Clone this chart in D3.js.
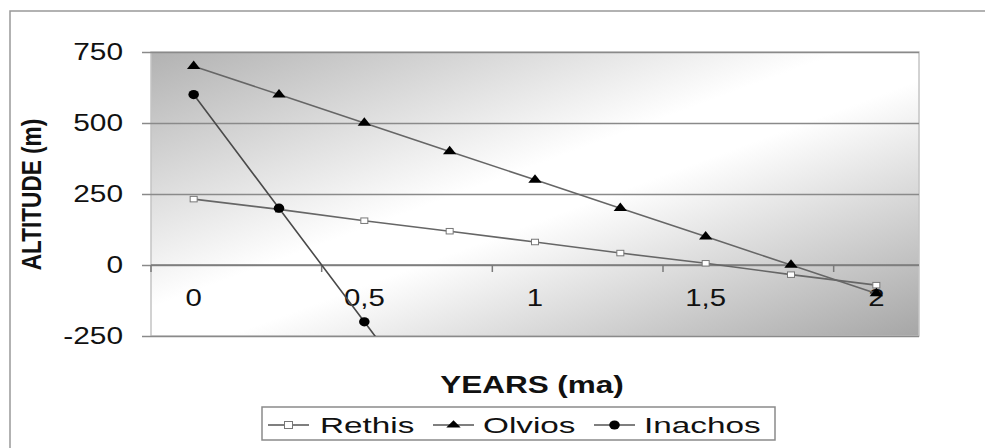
<!DOCTYPE html>
<html><head><meta charset="utf-8">
<script src="https://cdn.jsdelivr.net/npm/d3@7"></script>
<style>html,body{margin:0;padding:0;background:#fff;overflow:hidden}text{font-family:Arial,"Liberation Sans",sans-serif;fill:#111}</style>
</head><body>
<svg id="c" width="985" height="448"></svg>
<script>
const years = [0, 0.25, 0.5, 0.75, 1, 1.25, 1.5, 1.75, 2];
const xTickLabels = ["0", "0,5", "1", "1,5", "2"];
const yTicks = [-250, 0, 250, 500, 750];
const seriesNames = ["Rethis", "Olvios", "Inachos"];
const rethis = [232, 196, 156, 119, 81, 42, 6, -34, -71];
const olvios = [700, 600, 500, 400, 300, 200, 100, 0, -100];
const inachos = [600, 200, -200, -600, null, null, null, null, null];

const svg = d3.select("#c");
const L = 151, R = 919, T = 52, B = 336;
const x = d3.scaleBand().domain(years).range([L, R]);
const cx = d => x(d) + x.bandwidth() / 2;
const y = d3.scaleLinear().domain([-250, 750]).range([B, T]);

// outer frame
svg.append("rect").attr("x", 10).attr("y", 11).attr("width", 1000).attr("height", 500)
  .attr("fill", "none").attr("stroke", "#999").attr("stroke-width", 1.5);

const defs = svg.append("defs");
const g = defs.append("linearGradient").attr("id", "bg").attr("x1", 0).attr("y1", 0).attr("x2", 1).attr("y2", 1);
g.append("stop").attr("offset", "0%").attr("stop-color", "#b2b2b2");
g.append("stop").attr("offset", "45%").attr("stop-color", "#ffffff");
g.append("stop").attr("offset", "55%").attr("stop-color", "#ffffff");
g.append("stop").attr("offset", "100%").attr("stop-color", "#a6a6a6");
defs.append("clipPath").attr("id", "clip").append("rect")
  .attr("x", L).attr("y", T).attr("width", R - L).attr("height", B - T);

svg.append("rect").attr("x", L).attr("y", T).attr("width", R - L).attr("height", B - T)
  .attr("fill", "url(#bg)").attr("stroke", "#c4c4c4").attr("stroke-width", 1.5);

// gridlines + y ticks
const yAxis = d3.axisLeft(y).tickValues(yTicks).tickSize(-(R - L) - 9).tickPadding(0).tickFormat("");
const ya = svg.append("g").attr("transform", `translate(${L},0)`).call(yAxis);
ya.select(".domain").remove();
ya.selectAll(".tick line").attr("x1", -9).attr("x2", R - L).attr("stroke", "#8a8a8a").attr("stroke-width", 1.5);
svg.append("g").selectAll("text").data(yTicks).join("text")
  .attr("transform", d => `translate(123,${y(d)}) scale(1.27,1)`)
  .attr("text-anchor", "end").attr("dy", "0.36em").attr("font-size", 23.5).text(d => d);

// x axis at 0
const tickIdx = [0, 2, 4, 6, 8];
svg.append("line").attr("x1", L).attr("x2", R).attr("y1", y(0)).attr("y2", y(0)).attr("stroke", "#7a7a7a").attr("stroke-width", 1.5);
svg.append("g").selectAll("line").data(tickIdx).join("line")
  .attr("x1", i => x(years[i])).attr("x2", i => x(years[i]))
  .attr("y1", y(0)).attr("y2", y(0) + 7).attr("stroke", "#7a7a7a").attr("stroke-width", 1.5);
svg.append("g").selectAll("text").data(xTickLabels).join("text")
  .attr("transform", (d, i) => `translate(${cx(years[i * 2])},298) scale(1.25,1)`)
  .attr("text-anchor", "middle").attr("dy", "0.36em").attr("font-size", 23.5).text(d => d);

// axis titles
svg.append("text").attr("transform", "translate(532,393) scale(1.34,1)")
  .attr("text-anchor", "middle").attr("font-size", 23.5).attr("font-weight", "bold").text("YEARS (ma)");
svg.append("text").attr("transform", "translate(41,194.5) rotate(-90) scale(1,1.26)")
  .attr("text-anchor", "middle").attr("font-size", 22.6).attr("font-weight", "bold").text("ALTITUDE (m)");

// series
const data = [rethis, olvios, inachos];
const line = d3.line().defined(d => d.v != null).x(d => cx(d.x)).y(d => y(d.v));
const plot = svg.append("g").attr("clip-path", "url(#clip)");
data.forEach((arr, k) => {
  const pts = years.map((yr, i) => ({ x: yr, v: arr[i] }));
  plot.append("path").datum(pts).attr("d", line).attr("fill", "none")
    .attr("stroke", k === 2 ? "#4a4a4a" : "#666").attr("stroke-width", 1.6);
});
const tri = d3.symbol().type(d3.symbolTriangle).size(46)();
const circ = d3.symbol().type(d3.symbolCircle).size(66)();
function marker(sel, k, px, py, big) {
  if (k === 0) {
    const w = big ? 8 : 7, h = big ? 7 : 5.5;
    sel.append("rect").attr("x", px - w / 2).attr("y", py - h / 2).attr("width", w).attr("height", h)
      .attr("fill", "#fff").attr("stroke", "#777").attr("stroke-width", 1);
  } else if (k === 1) {
    sel.append("path").attr("d", tri).attr("fill", "#000")
      .attr("transform", `translate(${px},${py}) scale(${big ? 1.4 : 1.3},${big ? 0.8 : 0.95})`);
  } else {
    sel.append("path").attr("d", circ).attr("fill", "#000")
      .attr("transform", `translate(${px},${py}) scale(1.15,1)`);
  }
}
const mk = svg.append("g").attr("clip-path", "url(#clip)");
data.forEach((arr, k) => {
  years.forEach((yr, i) => {
    if (arr[i] == null || arr[i] < -250) return;
    marker(mk, k, cx(yr), y(arr[i]), false);
  });
});

// legend
const lg = svg.append("g");
lg.append("rect").attr("x", 262).attr("y", 407).attr("width", 513).attr("height", 33)
  .attr("fill", "#fff").attr("stroke", "#8a8a8a").attr("stroke-width", 1.5);
const legX = [268, 433, 594];
const textX = [320, 483, 644];
seriesNames.forEach((n, k) => {
  lg.append("line").attr("x1", legX[k]).attr("x2", legX[k] + 41).attr("y1", 425).attr("y2", 425)
    .attr("stroke", "#555").attr("stroke-width", 1.3);
  marker(lg, k, legX[k] + 20.5, 425, true);
  lg.append("text").attr("transform", `translate(${textX[k]},432.5) scale(1.48,1)`)
    .attr("font-size", 22.5).text(n);
});
</script>
</body></html>
